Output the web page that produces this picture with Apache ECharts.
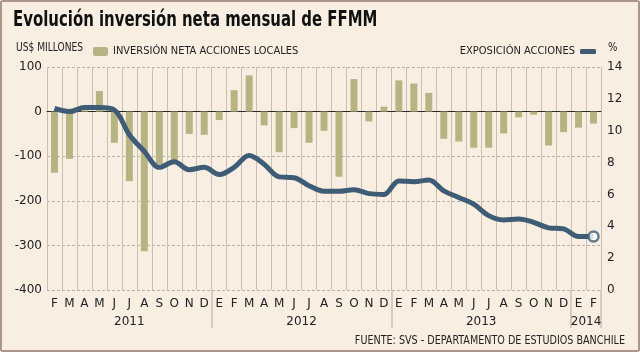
<!DOCTYPE html>
<html><head><meta charset="utf-8">
<script src="https://cdn.jsdelivr.net/npm/echarts@6/dist/echarts.min.js"></script>
<style>html,body{margin:0;padding:0;background:#f8efe2;}#c{width:640px;height:352px;box-sizing:border-box;border:2px solid #ab958c;border-radius:3px;}</style>
</head><body><div id="c"></div>
<script>
var months = ['F','M','A','M','J','J','A','S','O','N','D','E','F','M','A','M','J','J','A','S','O','N','D','E','F','M','A','M','J','J','A','S','O','N','D','E','F'];
var yearLabels = ['2011','2012','2013','2014'];
var yearMonthCounts = [11,12,12,2];
var leftTicks = [-400,-300,-200,-100,0,100];
var rightTicks = [0,2,4,6,8,10,12,14];
var inversion = [-137,-106,3,46,-70,-156,-313,-118,-111,-50,-52,
  -19,48,81,-31,-91,-37,-70,-43,-146,73,-22,11,
  70,63,42,-61,-67,-81,-81,-49,-13,-7,-76,-46,
  -36,-27];
var exposicion = [11.4,11.2,11.45,11.45,11.3,9.75,8.7,7.7,8.05,7.55,7.7,
  7.25,7.7,8.45,7.9,7.1,7.05,6.55,6.2,6.2,6.3,6.05,6.0,
  6.85,6.8,6.9,6.22,5.81,5.39,4.67,4.4,4.46,4.25,3.9,3.84,
  3.36,3.36];

var yearCenters = {}, yearStarts = {};
var acc = 0;
yearMonthCounts.forEach(function(c,i){ yearCenters[(acc + c/2).toFixed(1)] = yearLabels[i]; if(i>0) yearStarts[acc]=true; acc += c; });

var lineColor = '#3e5c75';
var cond = 'DejaVu Sans Condensed';
var font = 'DejaVu Sans';
var chart = echarts.init(document.getElementById('c'));
var lastPoint = exposicion.map(function(v,i){ return i === exposicion.length-1 ? v : null; });
chart.setOption({
  backgroundColor: '#f8efe2',
  animation: false,
  graphic: [
    {type: 'text', left: 11, top: 8, scaleX: 0.79,
     style: {text: 'Evolución inversión neta mensual de FFMM', font: 'bold 21px "DejaVu Sans Condensed"', fill: '#111'}},
    {type: 'text', left: 14, top: 39, scaleX: 0.78,
     style: {text: 'US$ MILLONES', font: '13px "DejaVu Sans Condensed"', fill: '#222'}},
    {type: 'text', left: 606, top: 39, scaleX: 0.85,
     style: {text: '%', font: '13px "DejaVu Sans Condensed"', fill: '#222'}},
    {type: 'text', right: 13, top: 333, scaleX: 0.89,
     style: {text: 'FUENTE: SVS - DEPARTAMENTO DE ESTUDIOS BANCHILE', font: '12px "DejaVu Sans Condensed"', fill: '#222'}}
  ],
  legend: [
    {data: ['INVERSIÓN NETA ACCIONES LOCALES'], left: 86, top: 39, itemWidth: 15, itemHeight: 9, itemGap: 6,
     textStyle: {fontFamily: cond, fontSize: 11, color: '#222'}},
    {data: [{name: 'EXPOSICIÓN ACCIONES', icon: 'roundRect'}], right: 37, top: 39, align: 'right', itemWidth: 16, itemHeight: 5,
     textStyle: {fontFamily: cond, fontSize: 11, color: '#222'}}
  ],
  grid: {left: 45, right: 37, top: 65, bottom: 60},
  xAxis: [
    {type: 'category', data: months, position: 'bottom',
     axisLine: {onZero: true, onZeroAxisIndex: 0, lineStyle: {color: '#2a2a2a', width: 1}},
     axisTick: {show: false}, axisLabel: {show: false},
     splitLine: {show: true, lineStyle: {color: '#c9bfb3', width: 1}}},
    {type: 'category', data: months, position: 'bottom',
     axisLine: {show: false}, axisTick: {show: false},
     axisLabel: {interval: 0, margin: 8, fontFamily: font, fontSize: 12, color: '#222'}},
    {type: 'category', data: months, position: 'bottom',
     axisLine: {show: false},
     axisTick: {show: true, length: 38, inside: false,
       interval: function(i){ return !!yearStarts[i]; },
       lineStyle: {color: '#cbc1b5', width: 1.5}},
     axisLabel: {show: false}},
    {type: 'value', min: 0, max: months.length, interval: 0.5, position: 'bottom', offset: 20,
     axisLine: {show: false}, axisTick: {show: false}, splitLine: {show: false},
     axisLabel: {margin: 6, fontFamily: font, fontSize: 12, color: '#222', showMinLabel: true, showMaxLabel: true,
       formatter: function(v){ return yearCenters[v.toFixed(1)] || ''; }}}
  ],
  yAxis: [
    {type: 'value', min: leftTicks[0], max: leftTicks[leftTicks.length-1], interval: 100,
     axisLine: {show: false}, axisTick: {show: false},
     axisLabel: {margin: 5, fontFamily: font, fontSize: 12, color: '#222'},
     splitLine: {show: true, lineStyle: {color: '#b9b2a8', type: [3,2], width: 1}}},
    {type: 'value', min: rightTicks[0], max: rightTicks[rightTicks.length-1], interval: 2,
     axisLine: {show: false}, axisTick: {show: false},
     axisLabel: {margin: 6, fontFamily: font, fontSize: 12, color: '#222'},
     splitLine: {show: false}}
  ],
  series: [
    {name: 'INVERSIÓN NETA ACCIONES LOCALES', type: 'bar', data: inversion, xAxisIndex: 0, yAxisIndex: 0,
     barWidth: 7, itemStyle: {color: '#b7b483'}},
    {name: 'EXPOSICIÓN ACCIONES', type: 'line', data: exposicion, xAxisIndex: 0, yAxisIndex: 1,
     smooth: 0.35, symbol: 'none', lineStyle: {color: lineColor, width: 5}, itemStyle: {color: lineColor}, z: 3},
    {name: 'end', type: 'scatter', data: lastPoint, xAxisIndex: 0, yAxisIndex: 1, symbolSize: 10,
     itemStyle: {color: '#ffffff', borderColor: lineColor, borderWidth: 2.5}, z: 4}
  ]
});
</script></body></html>
